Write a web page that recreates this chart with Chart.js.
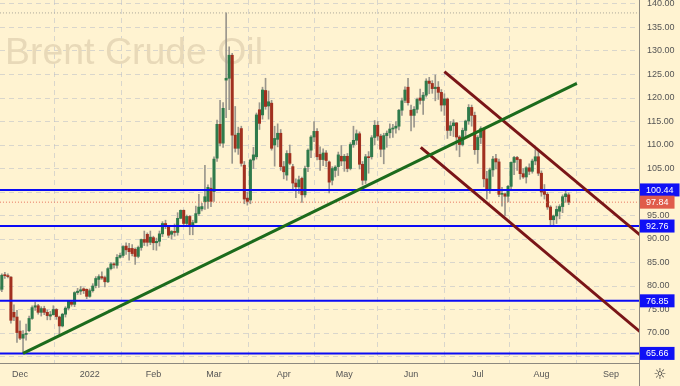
<!DOCTYPE html>
<html>
<head>
<meta charset="utf-8">
<script src="https://cdn.jsdelivr.net/npm/chart.js@4.4.1/dist/chart.umd.min.js"></script>
<style>
  html, body { margin: 0; padding: 0; background: #fff3d1; }
  #wrap { width: 680px; height: 386px; }
</style>
</head>
<body>
<div id="wrap"><canvas id="chart"></canvas></div>
<script>
// Daily candles, one per trading day, index 0 = 22 Nov 2021 ... 188 = 12 Aug 2022
const opens = [
  79.0, 79.3, 82.3, 82.2, 81.9, 74.4, 73.4, 70.4, 68.9, 69.7,
  70.5, 73.1, 75.5, 75.8, 74.4, 75.2, 74.4, 73.6, 73.9, 75.0,
  73.4, 71.5, 74.0, 75.3, 76.6, 76.1, 78.6, 78.9, 79.4, 79.3,
  77.8, 79.0, 80.1, 81.4, 82.0, 81.8, 80.9, 83.7, 84.7, 84.4,
  86.1, 86.5, 88.5, 88.0, 88.0, 87.8, 86.3, 88.2, 89.9, 91.0,
  89.3, 90.3, 89.2, 89.5, 91.1, 93.3, 92.7, 91.0, 91.6, 91.4,
  94.4, 96.1, 93.3, 94.8, 93.0, 93.5, 95.4, 96.4, 97.9, 98.0,
  100.8, 100.1, 107.2, 114.4, 110.4, 123.8, 124.2, 129.1, 112.1, 109.3,
  113.5, 105.7, 98.7, 98.3, 106.8, 107.5, 117.5, 116.4, 121.6, 118.3,
  118.9, 110.0, 111.2, 112.5, 105.4, 103.6, 108.2, 105.4, 101.9, 101.1,
  102.9, 99.4, 105.4, 108.9, 111.7, 112.9, 108.0, 106.9, 108.3, 106.4,
  102.5, 104.6, 105.4, 107.6, 106.6, 107.6, 105.0, 110.1, 111.0, 112.4,
  105.9, 102.5, 107.5, 107.5, 111.6, 114.2, 111.9, 109.1, 112.0, 112.6,
  113.4, 113.6, 114.0, 117.4, 119.5, 122.3, 117.4, 116.3, 117.6, 120.0,
  119.5, 120.6, 123.6, 123.1, 122.0, 122.3, 121.2, 118.5, 119.8, 113.1,
  114.1, 114.7, 111.7, 110.1, 113.1, 115.1, 118.0, 116.3, 109.0, 111.6,
  113.5, 102.8, 100.7, 104.7, 107.1, 106.4, 99.5, 99.6, 99.1, 101.2,
  106.3, 107.35, 106.9, 103.9, 103.2, 105.15, 104.4, 106.6, 107.5, 104.0,
  100.1, 99.5, 96.8, 94.1, 94.9, 95.9, 96.9, 99.0, 99.4
];
const highs = [
  80.5, 82.6, 82.9, 82.6, 82.0, 76.0, 74.8, 72.6, 70.5, 71.9,
  73.6, 75.8, 76.6, 76.1, 75.6, 75.7, 74.9, 74.6, 75.8, 75.2,
  73.6, 74.2, 75.6, 76.9, 76.9, 78.8, 79.5, 79.9, 79.6, 79.4,
  79.4, 80.5, 82.0, 82.4, 83.0, 82.1, 83.9, 85.0, 85.0, 86.7,
  87.0, 88.6, 89.2, 89.1, 88.8, 88.1, 88.5, 90.0, 91.7, 91.3,
  91.7, 90.6, 90.2, 91.7, 93.7, 94.0, 92.9, 91.8, 93.2, 95.6,
  96.2, 96.2, 95.1, 95.0, 94.0, 97.0, 99.5, 97.6, 105.7, 101.5,
  103.0, 107.5, 115.3, 119.5, 119.0, 138.1, 130.9, 129.5, 118.2, 113.8,
  114.0, 106.5, 100.0, 107.0, 109.5, 116.8, 119.0, 122.3, 124.2, 121.5,
  119.5, 114.0, 114.5, 113.3, 106.5, 108.8, 110.0, 105.9, 102.8, 103.4,
  103.2, 105.5, 109.2, 112.0, 115.0, 113.5, 109.6, 109.2, 108.8, 106.6,
  105.4, 105.6, 108.5, 109.9, 108.0, 108.2, 110.5, 114.0, 113.2, 112.8,
  106.5, 108.0, 108.6, 112.0, 115.2, 115.0, 112.3, 112.5, 113.0, 114.5,
  114.4, 115.0, 117.6, 120.0, 122.4, 124.2, 118.5, 118.2, 120.0, 121.9,
  121.2, 124.1, 124.4, 123.7, 124.9, 123.5, 121.8, 120.9, 120.0, 115.0,
  115.4, 114.8, 112.0, 113.6, 115.3, 118.6, 118.5, 117.0, 112.0, 113.9,
  113.6, 104.4, 105.1, 107.6, 108.0, 107.0, 101.0, 99.7, 101.4, 106.4,
  107.6, 107.6, 107.0, 105.0, 105.4, 106.0, 107.0, 109.0, 108.9, 104.5,
  101.6, 99.9, 97.1, 95.1, 97.0, 97.3, 99.4, 100.4, 99.8
];
const lows = [
  78.2, 78.8, 81.6, 81.7, 72.1, 72.6, 68.0, 68.6, 65.66, 68.5,
  70.3, 72.9, 74.8, 74.0, 73.6, 73.9, 72.8, 72.8, 73.8, 72.9,
  69.3, 71.3, 73.4, 74.9, 75.7, 75.6, 78.2, 78.2, 78.4, 77.3,
  77.6, 78.7, 79.6, 79.7, 81.4, 79.8, 80.7, 83.4, 83.8, 83.8,
  85.9, 86.1, 86.7, 85.5, 86.4, 84.6, 86.0, 87.6, 88.6, 88.5,
  88.8, 87.7, 87.6, 88.5, 90.5, 92.2, 90.3, 90.0, 90.6, 90.8,
  94.3, 92.8, 92.7, 90.9, 90.9, 93.4, 95.0, 96.0, 96.3, 96.5,
  96.9, 98.0, 106.5, 109.8, 109.5, 115.8, 117.5, 106.1, 108.5, 108.0,
  105.5, 97.5, 97.2, 97.5, 105.0, 107.0, 113.3, 115.5, 117.6, 115.5,
  108.9, 105.5, 109.6, 104.6, 102.8, 102.5, 105.8, 100.5, 98.8, 99.7,
  97.8, 98.9, 104.3, 107.3, 110.7, 106.8, 104.6, 105.6, 105.4, 99.8,
  101.5, 103.2, 103.5, 105.6, 104.4, 104.3, 104.7, 109.5, 110.1, 104.9,
  101.5, 101.8, 104.0, 107.0, 110.0, 111.0, 107.5, 106.0, 109.5, 111.5,
  111.6, 112.5, 113.2, 116.3, 119.0, 118.5, 113.0, 113.8, 116.8, 118.7,
  116.5, 120.2, 120.9, 121.0, 119.4, 119.7, 117.2, 116.3, 111.4, 112.0,
  111.8, 108.9, 107.5, 109.8, 111.9, 114.4, 114.0, 108.0, 106.1, 110.3,
  101.1, 98.5, 99.7, 103.3, 104.9, 99.0, 97.0, 95.0, 97.9, 100.7,
  103.7, 104.6, 102.7, 102.9, 101.9, 103.7, 104.0, 105.8, 103.5, 99.1,
  98.5, 96.3, 92.8, 92.8, 93.3, 94.3, 95.6, 97.8, 97.3
];
const closes = [
  79.7, 82.3, 82.2, 82.0, 72.7, 73.4, 70.1, 68.9, 69.7, 69.9,
  73.1, 75.4, 75.8, 74.4, 75.2, 74.4, 73.7, 73.9, 75.0, 73.5,
  71.5, 74.0, 75.3, 76.8, 76.1, 78.6, 78.9, 79.2, 79.0, 77.8,
  79.0, 80.0, 81.6, 82.0, 81.7, 80.9, 83.7, 84.7, 84.5, 86.1,
  86.5, 88.4, 87.7, 87.3, 86.9, 86.3, 88.2, 89.9, 89.3, 89.3,
  90.4, 89.2, 89.5, 91.1, 93.3, 92.7, 90.8, 91.6, 91.4, 94.4,
  96.1, 93.3, 94.8, 93.0, 93.5, 95.4, 96.8, 96.9, 99.0, 101.0,
  98.0, 107.0, 114.4, 110.4, 117.8, 124.2, 129.1, 112.1, 109.3, 112.5,
  106.1, 98.5, 98.0, 106.8, 107.9, 116.4, 114.6, 121.7, 118.2, 119.2,
  109.3, 111.4, 112.5, 105.4, 104.3, 108.2, 106.1, 101.9, 101.1, 102.6,
  99.4, 105.0, 108.9, 111.7, 112.9, 107.5, 106.9, 108.3, 106.7, 102.1,
  105.0, 105.3, 107.9, 106.6, 107.6, 105.0, 110.1, 111.0, 112.4, 105.9,
  102.5, 107.5, 107.3, 111.55, 114.2, 111.9, 109.1, 112.0, 112.5, 113.4,
  113.6, 114.0, 117.4, 119.4, 121.7, 119.0, 116.3, 117.6, 119.7, 119.5,
  120.6, 123.6, 123.1, 122.0, 122.3, 121.2, 118.5, 119.8, 113.1, 114.1,
  114.7, 111.7, 110.1, 113.1, 115.1, 118.0, 116.3, 109.0, 111.6, 113.5,
  102.8, 100.7, 104.7, 107.0, 106.4, 99.5, 99.6, 99.1, 101.2, 106.3,
  107.35, 106.9, 103.9, 103.2, 105.15, 104.4, 106.6, 107.5, 104.0, 100.0,
  99.5, 96.8, 94.1, 94.9, 96.3, 96.9, 99.0, 99.6, 97.84
];

// Month ticks (bar index of first trading day) and their labels
const monthTicks = [7, 30, 51, 71, 94, 114, 136, 158, 179, 202];
const monthLabels = ['Dec', '2022', 'Feb', 'Mar', 'Apr', 'May', 'Jun', 'Jul', 'Aug', 'Sep'];
const priceTicks = [65, 70, 75, 80, 85, 90, 95, 100, 105, 110, 115, 120, 125, 130, 135, 140];

// Horizontal levels and drawn trend lines ([bar index, price])
const levels = [100.44, 92.76, 76.85, 65.66];
const lastPrice = 97.84;
const highPrice = 138.1;
const supportLine = [[8, 65.66], [190.7, 123.1]];
const channelTop = [[147, 125.6], [215, 89.0]];
const channelBottom = [[139.2, 109.5], [215, 68.4]];

const X_MIN = 0.4, X_MAX = 211.2;
const Y_MIN = 63.62, Y_MAX = 140.85;

const UP = '#2f7a4b', DOWN = '#a1301f', WICK = '#9a968c';
const BG = '#fff3d1';
const FONT = "'Liberation Sans', Arial, sans-serif";

const pts = arr => arr.map(p => ({ x: p[0], y: p[1] }));
const flat = v => [{ x: X_MIN - 1, y: v }, { x: X_MAX + 1, y: v }];

const datasets = [
  {
    type: 'line', data: pts(supportLine), borderColor: '#1c6b1c', borderWidth: 3,
    pointRadius: 0, order: 0
  },
  {
    type: 'line', data: pts(channelTop), borderColor: '#7a1517', borderWidth: 3,
    pointRadius: 0, order: 0
  },
  {
    type: 'line', data: pts(channelBottom), borderColor: '#7a1517', borderWidth: 3,
    pointRadius: 0, order: 0
  },
  ...levels.map(v => ({
    type: 'line', data: flat(v), borderColor: '#0a0af5', borderWidth: 2,
    pointRadius: 0, order: 1
  })),
  {
    type: 'line', data: flat(lastPrice), borderColor: '#e8735f', borderWidth: 1,
    borderDash: [1, 2], pointRadius: 0, order: 1
  },
  {
    type: 'line', data: flat(highPrice), borderColor: '#aaa69a', borderWidth: 1,
    borderDash: [1, 2], pointRadius: 0, order: 1
  },
  {
    type: 'bar', data: opens.map((o, i) => ({ x: i, y: [o, closes[i]] })),
    backgroundColor: ctx => closes[ctx.dataIndex] >= opens[ctx.dataIndex] ? UP : DOWN,
    barThickness: 2.4, minBarLength: 1, grouped: false, order: 2
  },
  {
    type: 'bar', data: highs.map((h, i) => ({ x: i, y: [lows[i], h] })),
    backgroundColor: WICK, barThickness: 1, grouped: false, order: 3
  }
];

// Background, watermark and price boxes on the axis
const paper = {
  id: 'paper',
  beforeDraw(chart) {
    const c = chart.ctx;
    c.save();
    c.fillStyle = BG;
    c.fillRect(0, 0, chart.width, chart.height);
    c.restore();
  },
  beforeDatasetsDraw(chart) {
    const c = chart.ctx;
    c.save();
    c.font = "36px 'Liberation Sans', Arial, sans-serif";
    c.fillStyle = '#e8d9b8';
    c.textBaseline = 'alphabetic';
    const w = c.measureText('Brent Crude Oil').width;
    c.translate(5, 64);
    c.scale(258 / w, 1);
    c.fillText('Brent Crude Oil', 0, 0);
    c.restore();
  },
  afterDraw(chart) {
    const c = chart.ctx;
    const y = chart.scales.y;
    const right = chart.chartArea.right;
    c.save();
    c.strokeStyle = '#8d897f';
    c.lineWidth = 1;
    c.beginPath();
    c.moveTo(right + 0.5, chart.chartArea.bottom);
    c.lineTo(right + 0.5, chart.height);
    c.stroke();

    c.font = '9px ' + FONT;
    c.textBaseline = 'middle';
    const box = (v, color) => {
      const py = y.getPixelForValue(v);
      const txt = v.toFixed(2);
      const w = c.measureText(txt).width + 12;
      c.fillStyle = color;
      c.fillRect(right + 1, py - 6.5, w, 13);
      c.fillStyle = '#ffffff';
      c.fillText(txt, right + 7, py + 0.5);
    };
    levels.forEach(v => box(v, '#1010f5'));
    box(lastPrice, '#e05b4b');

    c.fillStyle = '#333';
    c.font = "15px 'DejaVu Sans'";
    c.textAlign = 'center';
    c.fillText('\u263C', 660, 375);
    c.restore();
  }
};

const noPad = s => { s.paddingTop = 0; s.paddingBottom = 0; s.paddingLeft = 0; s.paddingRight = 0; };

new Chart(document.getElementById('chart'), {
  type: 'bar',
  data: { datasets },
  options: {
    responsive: true,
    maintainAspectRatio: false,
    animation: false,
    layout: { padding: 0 },
    plugins: { legend: { display: false }, tooltip: { enabled: false } },
    scales: {
      x: {
        type: 'linear', min: X_MIN, max: X_MAX, offset: false,
        afterFit: s => { s.height = 23; noPad(s); },
        afterBuildTicks: s => { s.ticks = monthTicks.map(v => ({ value: v })); },
        grid: { color: 'rgba(185,190,200,0.55)', drawTicks: false },
        border: { display: true, color: '#8d897f', dash: [5, 4] },
        ticks: {
          padding: 6, color: '#555', font: { family: FONT, size: 9 },
          maxRotation: 0, autoSkip: false,
          callback: v => monthLabels[monthTicks.indexOf(v)]
        }
      },
      y: {
        type: 'linear', position: 'right', min: Y_MIN, max: Y_MAX,
        afterFit: s => { s.width = 41; noPad(s); },
        afterBuildTicks: s => { s.ticks = priceTicks.map(v => ({ value: v })); },
        grid: { color: 'rgba(185,190,200,0.55)', drawTicks: false },
        border: { display: true, color: '#8d897f', dash: [5, 4] },
        ticks: {
          padding: 8, color: '#555', font: { family: FONT, size: 9 },
          callback: v => v.toFixed(2)
        }
      }
    }
  },
  plugins: [paper]
});
</script>
</body>
</html>
